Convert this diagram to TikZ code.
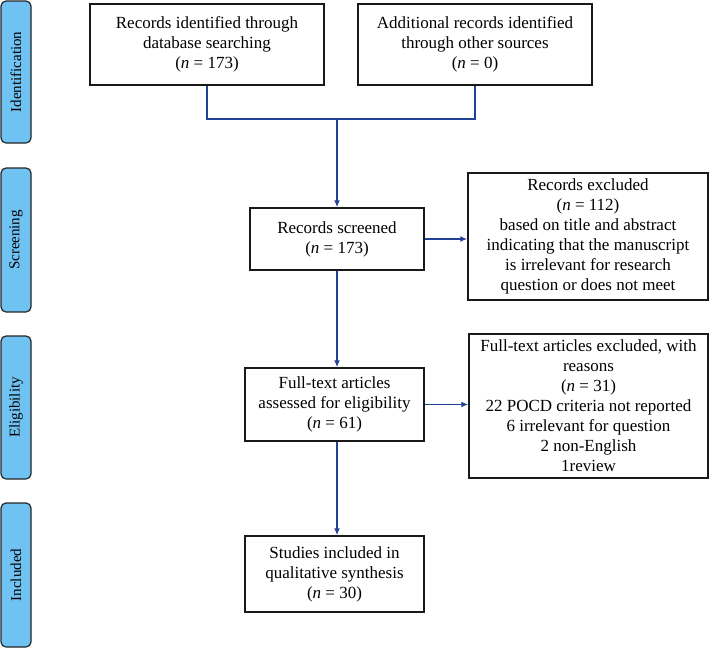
\documentclass[tikz,border=0pt]{standalone}
\usepackage{fontspec}
\setmainfont{Liberation Serif}
\usetikzlibrary{arrows.meta}
\definecolor{tabblue}{RGB}{112,194,242}
\definecolor{linkblue}{RGB}{34,66,150}
\tikzset{
  box/.style={draw=black!90, line width=1.5pt, fill=white, align=center, inner sep=0pt,
    font=\fontsize{17}{20}\selectfont},
  tab/.style={draw=black!85, line width=1.2pt, fill=tabblue, rounded corners=5pt,
    inner sep=0pt, minimum width=30pt},
  tablabel/.style={rotate=90, font=\fontsize{15}{18}\selectfont},
  conn/.style={draw=linkblue, line width=1.6pt},
  arr/.style={conn, -{Latex[length=7pt,width=6pt]}},
}
\begin{document}
\begin{tikzpicture}[x=1pt,y=-1pt]
\useasboundingbox (0,0) rectangle (709,648);
% stage tabs
\node[tab, minimum height=142pt] (t1) at (16,72) {};
\node[tablabel] (t1l) at (t1.center) {Identification};
\node[tab, minimum height=144pt] (t2) at (16,240) {};
\node[tablabel] (t2l) at (t2.center) {Screening};
\node[tab, minimum height=143pt] (t3) at (16,407.5) {};
\node[tablabel] (t3l) at (t3.center) {Eligibility};
\node[tab, minimum height=144pt] (t4) at (16,575) {};
\node[tablabel] (t4l) at (t4.center) {Included};
% boxes
\node[box, minimum width=234pt, minimum height=81pt] (b1) at (207,44.5)
  {Records identified through\\database searching\\(\textit{n} = 173)};
\node[box, minimum width=234pt, minimum height=81pt] (b2) at (475,44.5)
  {Additional records identified\\through other sources\\(\textit{n} = 0)};
\node[box, minimum width=174pt, minimum height=62pt] (s) at (337,239)
  {Records screened\\(\textit{n} = 173)};
\node[box, minimum width=240pt, minimum height=127pt] (e1) at (588,236.5)
  {Records excluded\\(\textit{n} = 112)\\based on title and abstract\\indicating that the manuscript\\is irrelevant for research\\question or does not meet};
\node[box, minimum width=179pt, minimum height=73pt] (f) at (334.5,404.5)
  {Full-text articles\\assessed for eligibility\\(\textit{n} = 61)};
\node[box, minimum width=239pt, minimum height=144pt] (e2) at (588.5,406)
  {Full-text articles excluded, with\\reasons\\(\textit{n} = 31)\\22 POCD criteria not reported\\6 irrelevant for question\\2 non-English\\1review};
\node[box, minimum width=179pt, minimum height=76pt] (q) at (334.5,574)
  {Studies included in\\qualitative synthesis\\(\textit{n} = 30)};
% connectors
\coordinate (j) at (337,119);
\draw[conn] (b1.south) |- (j) -| (b2.south);
\draw[arr] (j) -- (s.north);
\draw[arr] (s.east) -- (s.east -| e1.west);
\draw[arr] (s.south) -- (s.south |- f.north);
\draw[arr] (f.east) -- (f.east -| e2.west);
\draw[arr] (s.south |- f.south) -- (s.south |- q.north);
\end{tikzpicture}
\end{document}
